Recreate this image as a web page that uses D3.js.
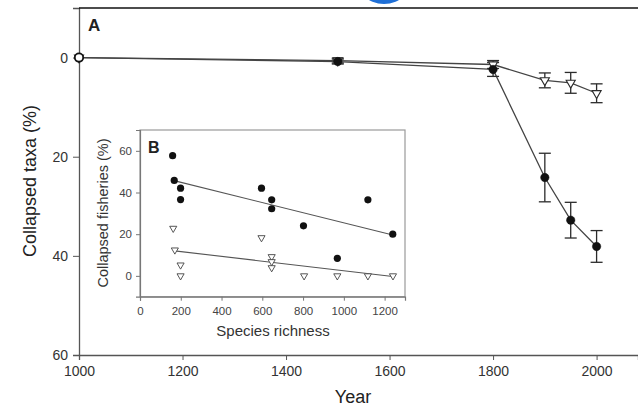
<!DOCTYPE html>
<html>
<head>
<meta charset="utf-8">
<script src="https://cdn.jsdelivr.net/npm/d3@7"></script>
<style>
  body { margin: 0; background: #fff; }
  svg { display: block; font-family: "Liberation Sans", Arial, sans-serif; }
</style>
</head>
<body>
<svg id="chart" width="638" height="409"></svg>
<script>
// panel A : collapsed taxa over time
const years = [1000, 1500, 1800, 1900, 1950, 2000];
const collapsedAll = [0, 0.8, 2.4, 24.2, 32.8, 38.1];
const collapsedAllErr = [0, 0.5, 1.4, 4.9, 3.6, 3.2];
const collapsedTri = [0, 0.6, 1.4, 4.6, 5.1, 7.2];
const collapsedTriErr = [0, 0.5, 0.8, 1.5, 2.1, 1.9];
const yearTicks = [1000, 1200, 1400, 1600, 1800, 2000];
const taxaTicks = [0, 20, 40, 60];

// panel B : collapsed fisheries vs species richness
const richCircle = [160, 168, 199, 199, 596, 646, 646, 802, 968, 1118, 1240];
const fishCircle = [57.7, 45.8, 42.1, 36.6, 42.1, 36.5, 32.2, 24, 8.4, 36.5, 20];
const richTri = [163, 171, 199, 199, 596, 646, 646, 646, 805, 968, 1118, 1241];
const fishTri = [22.8, 12.4, 5.2, 0, 18.3, 9.2, 6.8, 3.9, 0, 0, 0, 0];
const fitCircle = [[172, 45.6], [1240, 19.6]];
const fitTri = [[170, 12], [1240, -0.3]];
const richTicks = [0, 200, 400, 600, 800, 1000, 1200];
const fishTicks = [0, 20, 40, 60];

const svg = d3.select('#chart');
const ink = '#2b2b2b';

// petit cercle bleu coupé en haut de l'image
svg.append('circle').attr('cx', 384).attr('cy', -26).attr('r', 30).attr('fill', '#1f6fd6');

// ---------- panel A ----------
const x = d3.scaleLinear().domain([1000, 2080]).range([79, 638]);
const y = d3.scaleLinear().domain([-10, 60]).range([8, 355]);

const ax = svg.append('g').attr('transform', 'translate(0,355)')
    .call(d3.axisBottom(x).tickValues(yearTicks).tickSize(5).tickPadding(6).tickFormat(d3.format('d')));
ax.select('.domain').attr('stroke', '#555').attr('stroke-width', 1.3);
ax.selectAll('.tick line').attr('stroke', '#555');
ax.selectAll('text').attr('font-size', 14).attr('fill', '#333');

const ay = svg.append('g').attr('transform', 'translate(79,0)')
    .call(d3.axisLeft(y).tickValues(taxaTicks).tickSize(6).tickPadding(5));
ay.select('.domain').attr('stroke', '#555').attr('stroke-width', 1.3);
ay.selectAll('.tick line').attr('stroke', '#555');
ay.selectAll('text').attr('font-size', 14).attr('fill', '#333');

// trait du haut
svg.append('line').attr('x1', 79).attr('x2', 638).attr('y1', y(-10)).attr('y2', y(-10))
    .attr('stroke', '#111').attr('stroke-width', 1.4);

svg.append('text').attr('x', 88).attr('y', 31).attr('font-size', 17).attr('font-weight', 'bold')
    .attr('fill', '#222').text('A');

svg.append('text').attr('transform', 'translate(36,181) rotate(-90)').attr('text-anchor', 'middle')
    .attr('font-size', 18).attr('fill', '#222').text('Collapsed taxa (%)');
svg.append('text').attr('x', 353).attr('y', 403).attr('text-anchor', 'middle')
    .attr('font-size', 18).attr('fill', '#222').text('Year');

const line = d3.line().x(d => x(d[0])).y(d => y(d[1]));
const ptsAll = years.map((yr, i) => [yr, collapsedAll[i], collapsedAllErr[i]]);
const ptsTri = years.map((yr, i) => [yr, collapsedTri[i], collapsedTriErr[i]]);

[ptsTri, ptsAll].forEach(pts => {
    svg.append('path').datum(pts).attr('d', line).attr('fill', 'none')
        .attr('stroke', '#444').attr('stroke-width', 1.3);
});

function errorBars(pts) {
    const g = svg.append('g').attr('stroke', ink).attr('stroke-width', 1.3);
    pts.filter(d => d[2] > 0).forEach(d => {
        g.append('line').attr('x1', x(d[0])).attr('x2', x(d[0])).attr('y1', y(d[1] - d[2])).attr('y2', y(d[1] + d[2]));
        [d[1] - d[2], d[1] + d[2]].forEach(v => {
            g.append('line').attr('x1', x(d[0]) - 6).attr('x2', x(d[0]) + 6).attr('y1', y(v)).attr('y2', y(v));
        });
    });
}
errorBars(ptsAll);
errorBars(ptsTri);

const triSym = d3.symbol().type(d3.symbolTriangle).size(36);
svg.append('g').selectAll('path').data(ptsTri).join('path')
    .attr('d', triSym)
    .attr('transform', d => `translate(${x(d[0])},${y(d[1])}) rotate(180)`)
    .attr('fill', '#fff').attr('stroke', ink).attr('stroke-width', 1.1);
svg.append('g').selectAll('circle').data(ptsAll).join('circle')
    .attr('cx', d => x(d[0])).attr('cy', d => y(d[1])).attr('r', 4.2)
    .attr('fill', d => d[0] === 1000 ? '#fff' : '#111')
    .attr('stroke', '#111').attr('stroke-width', d => d[0] === 1000 ? 1.8 : 0.5);

// ---------- panel B (encart) ----------
const bx = d3.scaleLinear().domain([0, 1300]).range([140, 405]);
const by = d3.scaleLinear().domain([-10, 70]).range([296.7, 130]);

svg.append('rect').attr('x', 140).attr('y', 130).attr('width', 265).attr('height', 166.7)
    .attr('fill', '#fff').attr('stroke', '#9a9a9a').attr('stroke-width', 1.2);

const bax = svg.append('g').attr('transform', 'translate(0,296.7)')
    .call(d3.axisBottom(bx).tickValues(richTicks).tickSize(4).tickPadding(6).tickFormat(d3.format('d')));
bax.select('.domain').attr('stroke', '#777').attr('stroke-width', 1.2);
bax.selectAll('.tick line').attr('stroke', '#777');
bax.selectAll('text').attr('font-size', 11.5).attr('fill', '#444');

const bay = svg.append('g').attr('transform', 'translate(140,0)')
    .call(d3.axisLeft(by).tickValues(fishTicks).tickSize(4).tickPadding(4));
bay.select('.domain').attr('stroke', '#777').attr('stroke-width', 1.2);
bay.selectAll('.tick line').attr('stroke', '#777');
bay.selectAll('text').attr('font-size', 11.5).attr('fill', '#444');

svg.append('text').attr('x', 148).attr('y', 153).attr('font-size', 16).attr('font-weight', 'bold')
    .attr('fill', '#222').text('B');
svg.append('text').attr('transform', 'translate(108,213) rotate(-90)').attr('text-anchor', 'middle')
    .attr('font-size', 14.5).attr('fill', '#333').text('Collapsed fisheries (%)');
svg.append('text').attr('x', 273).attr('y', 336).attr('text-anchor', 'middle')
    .attr('font-size', 15).attr('fill', '#333').text('Species richness');

const bline = d3.line().x(d => bx(d[0])).y(d => by(d[1]));
[fitCircle, fitTri].forEach(f => {
    svg.append('path').datum(f).attr('d', bline).attr('fill', 'none')
        .attr('stroke', '#555').attr('stroke-width', 1.1);
});

const smallTri = d3.symbol().type(d3.symbolTriangle).size(22);
svg.append('g').selectAll('path').data(richTri.map((r, i) => [r, fishTri[i]])).join('path')
    .attr('d', smallTri)
    .attr('transform', d => `translate(${bx(d[0])},${by(d[1])}) rotate(180)`)
    .attr('fill', '#fff').attr('stroke', '#444').attr('stroke-width', 0.9);
svg.append('g').selectAll('circle').data(richCircle.map((r, i) => [r, fishCircle[i]])).join('circle')
    .attr('cx', d => bx(d[0])).attr('cy', d => by(d[1])).attr('r', 3.6).attr('fill', '#111');
</script>
</body>
</html>
